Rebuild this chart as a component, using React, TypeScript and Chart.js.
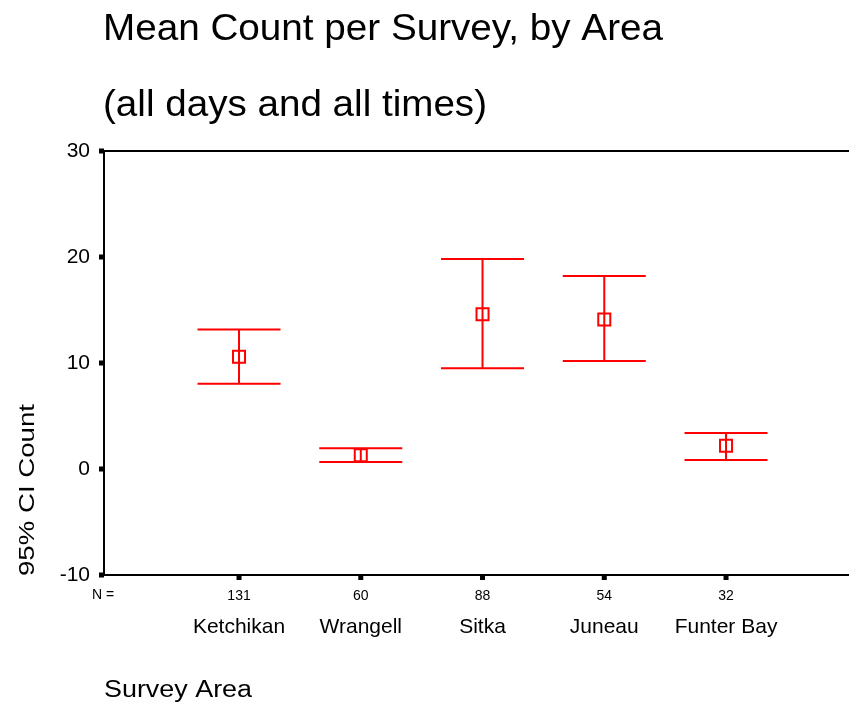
import React, { useEffect, useRef } from 'react';
import { Chart, registerables } from 'chart.js';

Chart.register(...registerables);

// ---- data ----
const areas = ['Ketchikan', 'Wrangell', 'Sitka', 'Juneau', 'Funter Bay'];
const nCounts = [131, 60, 88, 54, 32];
const means = [10.6, 1.3, 14.6, 14.1, 2.2];
const ciLow = [8.05, 0.66, 9.5, 10.2, 0.85];
const ciHigh = [13.17, 1.95, 19.8, 18.2, 3.4];
const yTicks = [-10, 0, 10, 20, 30];
const titleLines = ['Mean Count per Survey, by Area', '(all days and all times)'];
const xTitle = 'Survey Area';
const yTitle = '95% CI Count';

const FONT = '"Liberation Sans", Arial, Helvetica, sans-serif';
const RED = '#ff0000';

function drawText(
  ctx: CanvasRenderingContext2D,
  text: string,
  x: number,
  y: number,
  size: number,
  targetWidth: number | null,
  align: CanvasTextAlign = 'left'
) {
  ctx.save();
  ctx.font = `${size}px ${FONT}`;
  ctx.fillStyle = '#000';
  ctx.textBaseline = 'alphabetic';
  ctx.textAlign = align;
  let sx = 1;
  if (targetWidth) {
    const w = ctx.measureText(text).width;
    sx = targetWidth / w;
  }
  ctx.translate(x, y);
  ctx.scale(sx, 1);
  ctx.fillText(text, 0, 0);
  ctx.restore();
}

const decorPlugin = {
  id: 'decor',
  beforeDatasetsDraw(chart: any) {
    const ctx: CanvasRenderingContext2D = chart.ctx;
    const xs = chart.scales.x;
    const ys = chart.scales.y;
    const ca = chart.chartArea;
    ctx.save();
    // top frame line
    ctx.strokeStyle = '#000';
    ctx.lineWidth = 2;
    ctx.beginPath();
    ctx.moveTo(ca.left, ca.top);
    ctx.lineTo(ca.right, ca.top);
    ctx.stroke();
    // error bars
    ctx.strokeStyle = RED;
    ctx.lineWidth = 2;
    const half = 41.5;
    areas.forEach((_, i) => {
      const px = xs.getPixelForValue(i + 1);
      const pl = ys.getPixelForValue(ciLow[i]);
      const ph = ys.getPixelForValue(ciHigh[i]);
      ctx.beginPath();
      ctx.moveTo(px, pl);
      ctx.lineTo(px, ph);
      ctx.moveTo(px - half, ph);
      ctx.lineTo(px + half, ph);
      ctx.moveTo(px - half, pl);
      ctx.lineTo(px + half, pl);
      ctx.stroke();
    });
    ctx.restore();
  },
  afterDraw(chart: any) {
    const ctx: CanvasRenderingContext2D = chart.ctx;
    const xs = chart.scales.x;
    const ys = chart.scales.y;
    const ca = chart.chartArea;
    ctx.save();
    ctx.fillStyle = '#000';
    // tick squares
    yTicks.forEach((v) => {
      const py = ys.getPixelForValue(v);
      ctx.fillRect(ca.left - 5, py - 2.5, 5, 5);
    });
    areas.forEach((_, i) => {
      const px = xs.getPixelForValue(i + 1);
      ctx.fillRect(px - 2.5, ca.bottom, 5, 5);
    });
    ctx.restore();
    // titles
    drawText(ctx, titleLines[0], 103, 40, 37, 560);
    drawText(ctx, titleLines[1], 103, 116, 37, 384);
    // N =
    drawText(ctx, 'N =', 92, 599, 14, null);
    // category names
    areas.forEach((a, i) => {
      const px = xs.getPixelForValue(i + 1);
      drawText(ctx, a, px, 633, 21, null, 'center');
    });
    // x title
    drawText(ctx, xTitle, 104, 697, 23, 148);
    // y title rotated
    ctx.save();
    ctx.translate(34, 490);
    ctx.rotate(-Math.PI / 2);
    ctx.font = `22px ${FONT}`;
    const w = ctx.measureText(yTitle).width;
    ctx.scale(172 / w, 1);
    ctx.fillStyle = '#000';
    ctx.textAlign = 'center';
    ctx.textBaseline = 'alphabetic';
    ctx.fillText(yTitle, 0, 0);
    ctx.restore();
  },
};

export default function App() {
  const ref = useRef<HTMLCanvasElement | null>(null);
  useEffect(() => {
    if (!ref.current) return;
    const chart = new Chart(ref.current, {
      type: 'scatter',
      data: {
        datasets: [
          {
            data: means.map((m, i) => ({ x: i + 1, y: m })),
            pointStyle: 'rect',
            radius: 8.5,
            hoverRadius: 8.5,
            borderColor: RED,
            borderWidth: 2,
            backgroundColor: 'rgba(0,0,0,0)',
          },
        ],
      },
      options: {
        animation: false,
        responsive: true,
        maintainAspectRatio: false,
        layout: { autoPadding: false, padding: { top: 151, left: 0, right: 0, bottom: 0 } },
        plugins: {
          legend: { display: false },
          title: { display: false },
          tooltip: { enabled: false },
        },
        scales: {
          x: {
            type: 'linear',
            min: -0.109,
            max: 6.01,
            afterBuildTicks: (s: any) => {
              s.ticks = areas.map((_, i) => ({ value: i + 1 }));
            },
            afterFit: (s: any) => {
              s.height = 133;
              s.paddingLeft = 0;
              s.paddingRight = 0;
            },
            grid: { display: false },
            border: { display: true, color: '#000', width: 2 },
            ticks: {
              autoSkip: false,
              maxRotation: 0,
              padding: 5,
              color: '#000',
              font: { family: FONT, size: 14 },
              callback: (v: any) => {
                const idx = Math.round(Number(v)) - 1;
                return nCounts[idx] !== undefined ? String(nCounts[idx]) : '';
              },
            },
          },
          y: {
            type: 'linear',
            min: -10,
            max: 30,
            afterBuildTicks: (s: any) => {
              s.ticks = yTicks.map((v) => ({ value: v }));
            },
            afterFit: (s: any) => {
              s.width = 104;
              s.paddingTop = 0;
              s.paddingBottom = 0;
            },
            grid: { display: false },
            border: { display: true, color: '#000', width: 2 },
            ticks: {
              padding: 6,
              color: '#000',
              font: { family: FONT, size: 21 },
              callback: (v: any) => String(v),
            },
          },
        },
      },
      plugins: [decorPlugin],
    });
    return () => chart.destroy();
  }, []);
  return (
    <div style={{ position: 'absolute', left: 0, top: 0, width: 849, height: 708, background: '#fff' }}>
      <canvas ref={ref} />
    </div>
  );
}
